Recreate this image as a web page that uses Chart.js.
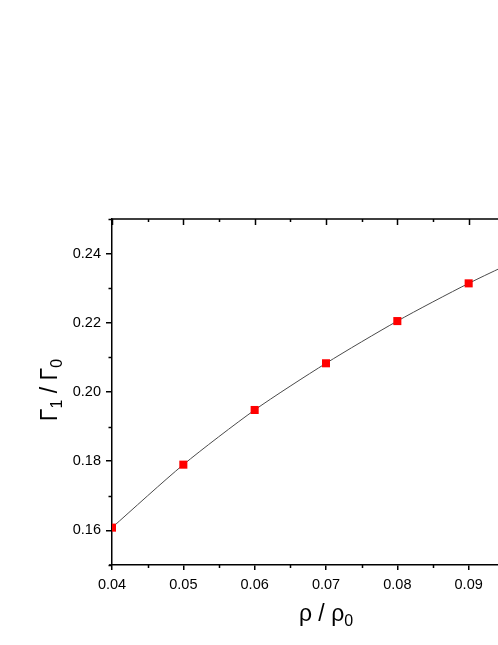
<!DOCTYPE html>
<html>
<head>
<meta charset="utf-8">
<script src="https://cdn.jsdelivr.net/npm/chart.js@4/dist/chart.umd.min.js"></script>
<style>
  html, body { margin: 0; padding: 0; background: #fff; overflow: hidden; }
  .wrap { width: 498px; height: 645px; overflow: hidden; position: relative; }
  .inner { position: absolute; left: 0; top: 0; width: 600px; height: 645px; }
</style>
</head>
<body>
<div class="wrap"><div class="inner"><canvas id="chart" width="600" height="645"></canvas></div></div>
<script>
// Data
const rho = [0.04, 0.05, 0.06, 0.07, 0.08, 0.09, 0.10];
const gamma = [0.1608, 0.1790, 0.1948, 0.2083, 0.2205, 0.2314, 0.2412];

// Ticks
const xTicks = [0.04, 0.05, 0.06, 0.07, 0.08, 0.09, 0.10];
const yTicks = [0.16, 0.18, 0.20, 0.22, 0.24];
const xMinor = [0.045, 0.055, 0.065, 0.075, 0.085, 0.095];
const yMinor = [0.15, 0.17, 0.19, 0.21, 0.23, 0.25];

const FONT = "'Liberation Sans', Arial, sans-serif";

// Minor ticks, top axis, axis titles
const extras = {
  id: "extras",
  afterDraw(chart) {
    const ctx = chart.ctx;
    const area = chart.chartArea;
    const x = chart.scales.x;
    const y = chart.scales.y;
    ctx.save();
    ctx.strokeStyle = "#000";
    ctx.lineWidth = 1.5;

    // top axis line
    ctx.beginPath();
    ctx.moveTo(area.left - 1, area.top);
    ctx.lineTo(area.right, area.top);
    // bottom axis a bit past the left axis
    ctx.moveTo(area.left - 3, area.bottom);
    ctx.lineTo(area.left, area.bottom);
    ctx.stroke();

    ctx.beginPath();
    // top axis ticks (inward)
    xTicks.forEach((v) => {
      const px = Math.round(x.getPixelForValue(v)) + 0.5;
      ctx.moveTo(px, area.top);
      ctx.lineTo(px, area.top + 6);
    });
    xMinor.forEach((v) => {
      const px = Math.round(x.getPixelForValue(v)) + 0.5;
      ctx.moveTo(px, area.top);
      ctx.lineTo(px, area.top + 3);
      // bottom minor (outward)
      ctx.moveTo(px, area.bottom);
      ctx.lineTo(px, area.bottom + 3);
    });
    yMinor.forEach((v) => {
      const py = Math.round(y.getPixelForValue(v)) + 0.5;
      ctx.moveTo(area.left, py);
      ctx.lineTo(area.left - 3.5, py);
    });
    ctx.stroke();

    // x title
    ctx.fillStyle = "#000";
    ctx.textBaseline = "alphabetic";
    ctx.textAlign = "left";
    const cx = (area.left + area.right) / 2;
    ctx.font = "23px " + FONT;
    const main = "ρ / ρ";
    const wMain = ctx.measureText(main).width;
    ctx.font = "16px " + FONT;
    const wSub = ctx.measureText("0").width;
    let sx = cx - (wMain + wSub) / 2;
    ctx.font = "23px " + FONT;
    ctx.fillText(main, sx, 621);
    ctx.font = "16px " + FONT;
    ctx.fillText("0", sx + wMain, 626);

    // y title
    ctx.translate(57, (area.top + area.bottom) / 2 - 2);
    ctx.rotate(-Math.PI / 2);
    const parts = [["Γ", 23, 0], ["1", 16, 5], [" / Γ", 23, 0], ["0", 16, 5]];
    let total = 0;
    parts.forEach((p) => {
      ctx.font = p[1] + "px " + FONT;
      total += ctx.measureText(p[0]).width;
    });
    let tx = -total / 2;
    parts.forEach((p) => {
      ctx.font = p[1] + "px " + FONT;
      ctx.fillText(p[0], tx, p[2]);
      tx += ctx.measureText(p[0]).width;
    });
    ctx.restore();
  },
};

const data = {
  datasets: [
    {
      data: rho.map((r, i) => ({ x: r, y: gamma[i] })),
      borderColor: "#4a4a4a",
      borderWidth: 1,
      tension: 0.25,
      pointStyle: "rect",
      pointRadius: 5.7,
      pointBorderWidth: 0,
      pointBackgroundColor: "#ff0000",
      clip: 0,
    },
  ],
};

const config = {
  type: "line",
  data: data,
  options: {
    responsive: false,
    animation: false,
    layout: { padding: { top: 219, right: 60, left: 0, bottom: 0 } },
    plugins: { legend: { display: false }, tooltip: { enabled: false } },
    scales: {
      x: {
        type: "linear",
        position: "bottom",
        min: 0.04,
        max: 0.1,
        afterBuildTicks: (s) => { s.ticks = xTicks.map((v) => ({ value: v })); },
        afterFit: (s) => { s.height = 80; },
        border: { color: "#000", width: 1.5 },
        grid: { drawOnChartArea: false, tickLength: 5, color: "#000", lineWidth: 1.5 },
        ticks: {
          color: "#000",
          font: { size: 14.5, family: FONT },
          padding: 6,
          maxRotation: 0,
          callback: (v) => v.toFixed(2),
        },
      },
      y: {
        type: "linear",
        min: 0.15,
        max: 0.25,
        afterBuildTicks: (s) => { s.ticks = yTicks.map((v) => ({ value: v })); },
        afterFit: (s) => { s.width = 112; },
        border: { color: "#000", width: 1.5 },
        grid: { drawOnChartArea: false, tickLength: 6, color: "#000", lineWidth: 1.5 },
        ticks: {
          color: "#000",
          font: { size: 14.5, family: FONT },
          padding: 5,
          callback: (v) => v.toFixed(2),
        },
      },
    },
  },
  plugins: [extras],
};

const myChart = new Chart(document.querySelector("#chart"), config);
</script>
</body>
</html>
